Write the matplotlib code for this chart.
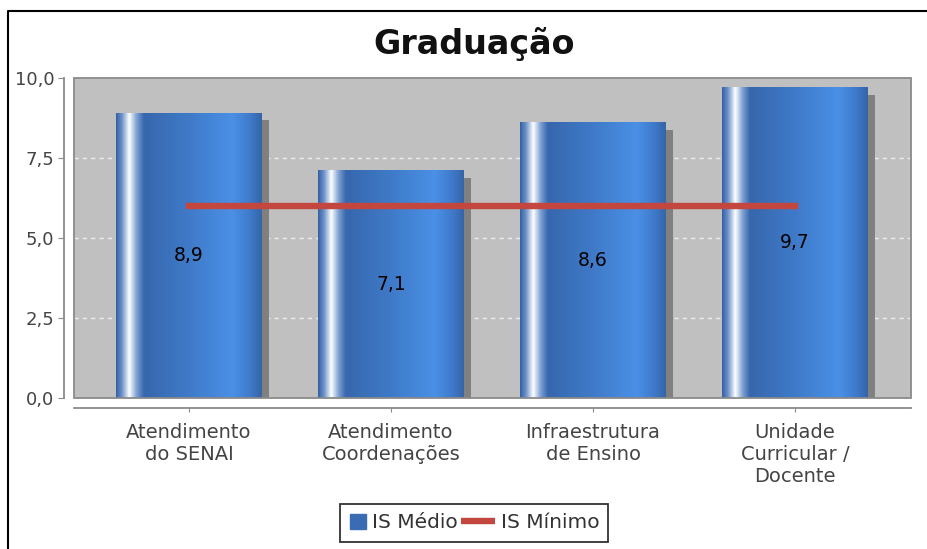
import numpy as np
import matplotlib
matplotlib.use("Agg")
import matplotlib.pyplot as plt
import matplotlib.transforms as mtransforms
from matplotlib.lines import Line2D
from matplotlib.patches import Patch, Rectangle
from matplotlib.legend_handler import HandlerPatch, HandlerBase
from matplotlib.colors import LinearSegmentedColormap

# ---- data ----
categories = ["Atendimento\ndo SENAI", "Atendimento\nCoordenações",
              "Infraestrutura\nde Ensino", "Unidade\nCurricular /\nDocente"]
is_medio = [8.9, 7.1, 8.6, 9.7]
is_minimo = [6.0, 6.0, 6.0, 6.0]
yticks = [0.0, 2.5, 5.0, 7.5, 10.0]
title = "Graduação"
legend_labels = ["IS Médio", "IS Mínimo"]

W, H = 928, 549
fig = plt.figure(figsize=(W / 100, H / 100), dpi=100)
fig.patch.set_facecolor("white")
ax = fig.add_axes([74 / W, 1 - 398 / H, (911 - 74) / W, (398 - 78) / H])
ax.set_facecolor("#c0c0c0")

x = np.arange(len(categories))
bw = 0.72

# grid
for yv in yticks[1:-1]:
    ax.axhline(yv, color="#eeeeee", lw=1, ls=(0, (3, 3)), zorder=1)

# shadows
shadow_tr = ax.transData + mtransforms.ScaledTranslation(7 / 100, -7 / 100, fig.dpi_scale_trans)
ax.bar(x, is_medio, bw, color="#808080", transform=shadow_tr, zorder=2)

# bars
bars = ax.bar(x, is_medio, bw, color="#3a6cb4", zorder=3, label=legend_labels[0])
stops = [(0.0, "#3361a5"), (0.04, "#6f93c8"), (0.09, "#ffffff"), (0.14, "#7fa1d2"),
         (0.19, "#3767ad"), (0.50, "#3f7ac8"), (0.80, "#4a90e6"), (0.92, "#3f7acb"),
         (1.0, "#3564a8")]
cmap = LinearSegmentedColormap.from_list("cyl", stops)
grad = np.linspace(0, 1, 256).reshape(1, -1)
for p in bars:
    x0, w, h = p.get_x(), p.get_width(), p.get_height()
    ax.imshow(grad, cmap=cmap, extent=[x0, x0 + w, 0, h], aspect="auto",
              interpolation="bilinear", zorder=3.5)

# value labels
for xi, v in zip(x, is_medio):
    ax.text(xi, v / 2, f"{v:.1f}".replace(".", ","), ha="center", va="center",
            fontsize=13.5, color="black", zorder=5)

# minimum line
ax.plot(x, is_minimo, color="#c4473f", lw=4.6, solid_capstyle="projecting",
        zorder=4, label=legend_labels[1])

ax.set_xlim(-0.569, 3.574)
ax.set_ylim(0, 10)
ax.set_yticks(yticks)
ax.set_yticklabels([f"{t:.1f}".replace(".", ",") for t in yticks])
ax.set_xticks(x)
ax.set_xticklabels(categories, linespacing=1.3)

for s in ["top", "right"]:
    ax.spines[s].set_visible(False)
for s in ["left", "bottom"]:
    ax.spines[s].set_position(("outward", 7))
    ax.spines[s].set_color("#8a8a8a")
    ax.spines[s].set_linewidth(1.3)
ax.add_patch(Rectangle((0, 0), 1, 1, transform=ax.transAxes, fill=False,
                       edgecolor="#8a8a8a", lw=1.3, zorder=6, clip_on=False))
ax.tick_params(axis="y", length=4, color="#8a8a8a", labelcolor="#444444",
               labelsize=13, pad=3)
ax.tick_params(axis="x", length=3, color="#8a8a8a", labelcolor="#444444",
               labelsize=14, pad=8)

fig.text(474 / W, 1 - 44 / H, title, ha="center", va="center",
         fontsize=24, fontweight="bold", color="#111111")

# legend
def square(legend, orig_handle, xdescent, ydescent, width, height, fontsize):
    s = 11
    return Rectangle((-xdescent + width - s, -ydescent + (height - s) / 2), s, s)


class LongLine(HandlerBase):
    def create_artists(self, legend, orig_handle, xdescent, ydescent, width,
                       height, fontsize, trans):
        extra = 12
        yc = -ydescent + height / 2
        ln = Line2D([-xdescent - extra, -xdescent + width], [yc, yc],
                    color=orig_handle.get_color(), lw=orig_handle.get_linewidth(),
                    solid_capstyle="butt", transform=trans)
        return [ln]


handles = [Patch(color="#3a6cb4"),
           Line2D([], [], color="#c4473f", lw=4.6)]
leg = fig.legend(handles, legend_labels, loc="center",
                 bbox_to_anchor=(474 / W, 1 - 523 / H), ncol=2, fontsize=14.5,
                 frameon=True, fancybox=False, edgecolor="black",
                 handlelength=0.85, handletextpad=0.3, columnspacing=1.0,
                 borderpad=0.45, borderaxespad=0,
                 handler_map={Patch: HandlerPatch(patch_func=square),
                              Line2D: LongLine()})
leg.get_frame().set_linewidth(1.3)
for t in leg.get_texts():
    t.set_color("#333333")

# outer border
fig.add_artist(Line2D([8 / W, 8 / W, 1], [0, 1 - 11 / H, 1 - 11 / H],
                      transform=fig.transFigure, color="black", lw=1.5))

fig.savefig("out.png", dpi=100)
